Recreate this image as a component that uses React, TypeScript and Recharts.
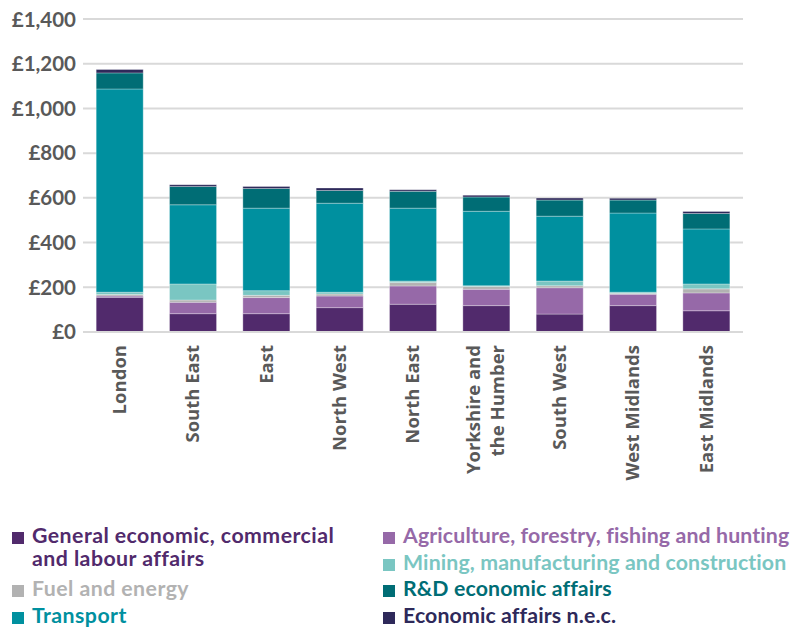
import React from "react";
import { BarChart, Bar, XAxis, YAxis, CartesianGrid, Legend } from "recharts";

const categories = ["London", "South East", "East", "North West", "North East", "Yorkshire and the Humber", "South West", "West Midlands", "East Midlands"];
const tickLabelLines: string[][] = [["London"], ["South East"], ["East"], ["North West"], ["North East"], ["Yorkshire and", "the Humber"], ["South West"], ["West Midlands"], ["East Midlands"]];
const general = [155, 82, 82, 109, 124, 118, 80, 118, 95];
const agriculture = [6, 51, 72, 52, 82, 73, 118, 51, 80];
const fuel = [7, 10, 10, 9, 15, 13, 9, 4, 18];
const mining = [10, 72, 21, 8, 7, 3, 21, 5, 22];
const transport = [909, 354, 369, 398, 326, 333, 290, 354, 246];
const rd = [72, 82, 88, 57, 75, 64, 72, 58, 69];
const nec = [15, 8, 9, 11, 7, 8, 9, 8, 9];
const yTicks = [0, 200, 400, 600, 800, 1000, 1200, 1400];

const seriesDefs = [
  { key: "general", name: "General economic, commercial and labour affairs", color: "#512a6c", values: general },
  { key: "agriculture", name: "Agriculture, forestry, fishing and hunting", color: "#9669a8", values: agriculture },
  { key: "fuel", name: "Fuel and energy", color: "#b2b2b2", values: fuel },
  { key: "mining", name: "Mining, manufacturing and construction", color: "#7ac6c2", values: mining },
  { key: "transport", name: "Transport", color: "#00909f", values: transport },
  { key: "rd", name: "R&D economic affairs", color: "#006d75", values: rd },
  { key: "nec", name: "Economic affairs n.e.c.", color: "#2e295a", values: nec },
];

const data = categories.map((c, i) => {
  const row: any = { name: c, idx: i };
  seriesDefs.forEach((s) => (row[s.key] = s.values[i]));
  return row;
});

const FONT = "Lato, 'Open Sans', sans-serif";

const XTick = (props: any) => {
  const { x, y, payload } = props;
  const idx = categories.indexOf(payload.value);
  const lines = tickLabelLines[idx] || [payload.value];
  const offsets = lines.length === 1 ? [0] : [-13, 11];
  return (
    <g>
      {lines.map((l, i) => (
        <text
          key={i}
          transform={`translate(${x + offsets[i]},${y + 5}) rotate(-90)`}
          textAnchor="end"
          dy="0.35em"
          fill="#595959"
          fontFamily="'Open Sans', sans-serif"
          fontWeight={700}
          fontSize={18.5}
        >
          {l}
        </text>
      ))}
    </g>
  );
};

const legendLayout: Record<string, { x: number; ys: number[]; lines: string[]; ls: number }> = {
  general: { x: 4, ys: [535, 558], lines: ["General economic, commercial", "and labour affairs"], ls: 0.45 },
  fuel: { x: 4, ys: [588], lines: ["Fuel and energy"], ls: 0.45 },
  transport: { x: 4, ys: [615], lines: ["Transport"], ls: 0.45 },
  agriculture: { x: 375, ys: [535], lines: ["Agriculture, forestry, fishing and hunting"], ls: 0.12 },
  mining: { x: 375, ys: [562], lines: ["Mining, manufacturing and construction"], ls: 0.12 },
  rd: { x: 375, ys: [588], lines: ["R&D economic affairs"], ls: 0.12 },
  nec: { x: 375, ys: [615], lines: ["Economic affairs n.e.c."], ls: 0.12 },
};
const LEGEND_TOP = 510;

const LegendContent = () => (
  <svg width={797} height={113} style={{ display: "block", overflow: "visible" }}>
    {seriesDefs.map((s) => {
      const L = legendLayout[s.key];
      return (
        <g key={s.key}>
          <rect x={L.x} y={L.ys[0] - LEGEND_TOP - 11} width={12} height={12} fill={s.color} />
          <text fill={s.color} fontFamily={FONT} fontWeight={700} fontSize={21.3} letterSpacing={L.ls}>
            {L.lines.map((ln, i) => (
              <tspan key={i} x={L.x + 20} y={L.ys[i] - LEGEND_TOP}>
                {ln}
              </tspan>
            ))}
          </text>
        </g>
      );
    })}
  </svg>
);

const fmt = (v: number) => "£" + v.toLocaleString("en-GB");

export default function App() {
  return (
    <BarChart width={797} height={623} data={data} margin={{ top: 11, right: 62, left: 0, bottom: 0 }} barCategoryGap="18%">
      <CartesianGrid vertical={false} stroke="#d9d9d9" strokeWidth={2} />
      <XAxis
        dataKey="name"
        interval={0}
        height={299}
        tickLine={false}
        axisLine={{ stroke: "#d9d9d9", strokeWidth: 2 }}
        tick={<XTick />}
      />
      <YAxis
        width={75}
        domain={[0, 1400]}
        ticks={yTicks}
        tickFormatter={fmt}
        tickLine={false}
        axisLine={false}
        tickMargin={1}
        tick={{ fill: "#595959", fontFamily: FONT, fontWeight: 700, fontSize: 20.5 }}
      />
      {seriesDefs.map((s) => (
        <Bar key={s.key} dataKey={s.key} name={s.name} stackId="a" fill={s.color} stroke="#ffffff" strokeWidth={0.6} strokeOpacity={0.5} isAnimationActive={false} />
      ))}
      <Legend layout="horizontal" verticalAlign="middle" align="center" content={<LegendContent />} wrapperStyle={{ top: LEGEND_TOP, left: 0, width: 797 }} />
    </BarChart>
  );
}
